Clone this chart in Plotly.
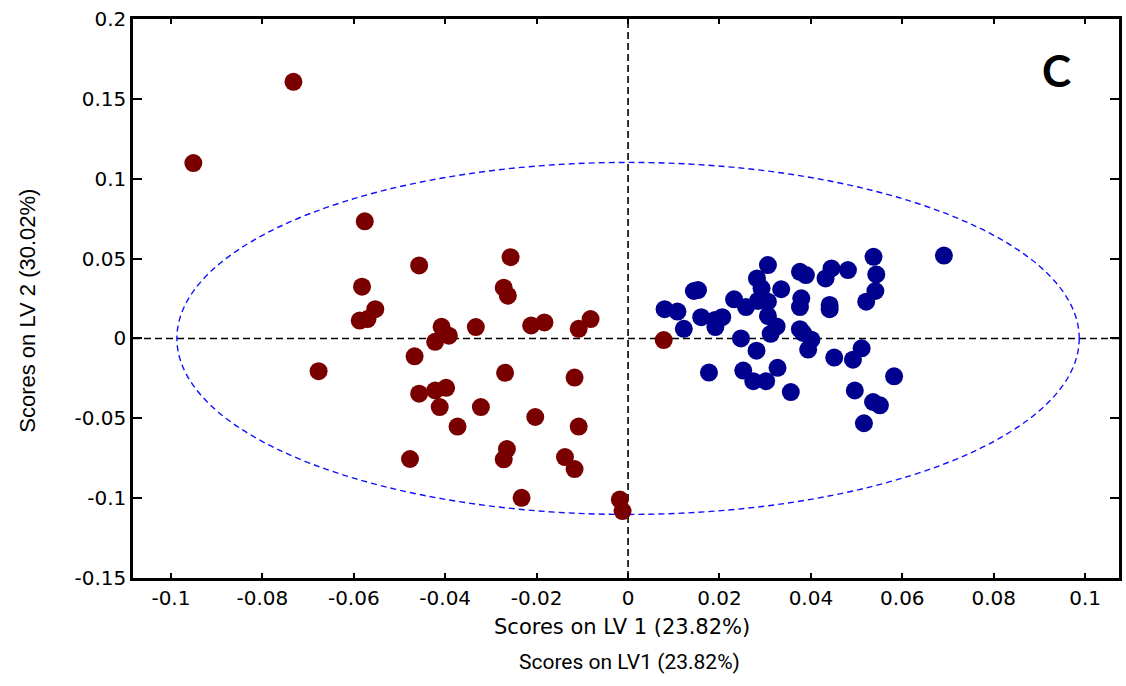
import plotly.graph_objects as go

# ---- data ----
class1_x = [-0.0732, -0.0951, -0.0576, -0.0457, -0.0257, -0.0582, -0.0272, -0.0263,
            -0.0553, -0.0587, -0.0570, -0.0408, -0.0392, -0.0422, -0.0333, -0.0212,
            -0.0183, -0.0108, -0.0082, -0.0467, -0.0677, -0.0269, -0.0117, -0.0457,
            -0.0422, -0.0398, -0.0412, -0.0322, -0.0373, -0.0203, -0.0108, -0.0265,
            -0.0272, -0.0477, -0.0138, -0.0117, -0.0233, -0.0018, -0.0012, 0.0078]
class1_y = [0.1607, 0.1098, 0.0733, 0.0457, 0.0509, 0.0324, 0.0318, 0.0268,
            0.0183, 0.0112, 0.0121, 0.0073, 0.0017, -0.0021, 0.0071, 0.0081,
            0.0100, 0.0060, 0.0121, -0.0112, -0.0205, -0.0215, -0.0245, -0.0346,
            -0.0326, -0.0309, -0.0430, -0.0430, -0.0552, -0.0492, -0.0552, -0.0693,
            -0.0757, -0.0755, -0.0743, -0.0818, -0.0998, -0.1009, -0.1081, -0.0010]

class2_x = [0.0691, 0.0537, 0.0306, 0.0376, 0.0389, 0.0445, 0.0481, 0.0432,
            0.0543, 0.0282, 0.0292, 0.0335, 0.0541, 0.0521, 0.0153, 0.0144,
            0.0232, 0.0258, 0.0284, 0.0306, 0.0379, 0.0376, 0.0441, 0.0441,
            0.0080, 0.0108, 0.0160, 0.0190, 0.0206, 0.0191, 0.0306, 0.0122,
            0.0325, 0.0312, 0.0376, 0.0383, 0.0401, 0.0394, 0.0247, 0.0281,
            0.0511, 0.0451, 0.0492, 0.0327, 0.0177, 0.0252, 0.0274, 0.0302,
            0.0356, 0.0582, 0.0496, 0.0536, 0.0551, 0.0516]
class2_y = [0.0519, 0.0511, 0.0459, 0.0417, 0.0397, 0.0438, 0.0428, 0.0376,
            0.0401, 0.0376, 0.0314, 0.0308, 0.0297, 0.0230, 0.0303, 0.0297,
            0.0245, 0.0196, 0.0235, 0.0230, 0.0251, 0.0196, 0.0210, 0.0183,
            0.0183, 0.0168, 0.0133, 0.0116, 0.0133, 0.0071, 0.0141, 0.0060,
            0.0075, 0.0029, 0.0058, 0.0034, -0.0008, -0.0070, 0.0000, -0.0077,
            -0.0062, -0.0120, -0.0133, -0.0184, -0.0214, -0.0201, -0.0268, -0.0268,
            -0.0336, -0.0237, -0.0326, -0.0398, -0.0419, -0.0531]

# confidence ellipse semi-axes
ellipse_a = 0.0987
ellipse_b = 0.1102

x_tickvals = [-0.1, -0.08, -0.06, -0.04, -0.02, 0, 0.02, 0.04, 0.06, 0.08, 0.1]
x_ticktext = ["-0.1", "-0.08", "-0.06", "-0.04", "-0.02", "0", "0.02", "0.04", "0.06", "0.08", "0.1"]
y_tickvals = [-0.15, -0.1, -0.05, 0, 0.05, 0.1, 0.15, 0.2]
y_ticktext = ["-0.15", "-0.1", "-0.05", "0", "0.05", "0.1", "0.15", "0.2"]

x_title = "Scores on LV 1 (23.82%)"
y_title = "Scores on LV 2 (30.02%)"
bottom_caption = "Scores on LV1 (23.82%)"
panel_label = "C"

# ---- figure ----
fig = go.Figure()

fig.add_trace(go.Scatter(x=class1_x, y=class1_y, mode="markers",
                         marker=dict(symbol="circle", size=18, color="#7a0000",
                                     line=dict(width=0)),
                         showlegend=False))
fig.add_trace(go.Scatter(x=class2_x, y=class2_y, mode="markers",
                         marker=dict(symbol="circle", size=18, color="#00008f",
                                     line=dict(width=0)),
                         showlegend=False))

# confidence ellipse
fig.add_shape(type="circle", xref="x", yref="y",
              x0=-ellipse_a, x1=ellipse_a, y0=-ellipse_b, y1=ellipse_b,
              line=dict(color="#1010ff", width=1.4, dash="6px,4px"), layer="below")
# zero lines
fig.add_shape(type="line", xref="x", yref="paper", x0=0, x1=0, y0=0, y1=1,
              line=dict(color="black", width=1.6, dash="7px,4px"), layer="below")
fig.add_shape(type="line", xref="paper", yref="y", x0=0, x1=1, y0=0, y1=0,
              line=dict(color="black", width=1.6, dash="7px,4px"), layer="below")

tick_font = dict(family="DejaVu Sans, Liberation Sans, Arial", size=20, color="black")

fig.update_xaxes(range=[-0.1083, 0.1074], tickvals=x_tickvals, ticktext=x_ticktext,
                 ticks="inside", ticklen=5, tickwidth=1.5, tickcolor="black",
                 showline=True, linewidth=2.5, linecolor="black", mirror="ticks",
                 showgrid=False, zeroline=False, tickfont=tick_font)
fig.update_yaxes(range=[-0.15, 0.2], tickvals=y_tickvals, ticktext=y_ticktext,
                 ticks="inside", ticklen=9, tickwidth=1.5, tickcolor="black",
                 showline=True, linewidth=2.5, linecolor="black", mirror="ticks",
                 showgrid=False, zeroline=False, tickfont=tick_font)

fig.add_annotation(text=x_title, xref="paper", yref="paper", x=0.496, y=-0.088,
                   xanchor="center", yanchor="middle", showarrow=False,
                   font=dict(family="DejaVu Sans, Liberation Sans", size=21, color="black"))
fig.add_annotation(text=y_title, xref="paper", yref="paper", x=-0.107, y=0.479,
                   xanchor="center", yanchor="middle", showarrow=False, textangle=-90,
                   font=dict(family="Liberation Sans Narrow, Liberation Sans", size=22, color="black"))
fig.add_annotation(text=bottom_caption, xref="paper", yref="paper", x=0.504, y=-0.151,
                   xanchor="center", yanchor="middle", showarrow=False,
                   font=dict(family="Liberation Sans Narrow, Roboto", size=21, color="black"))
fig.add_annotation(text="<b>" + panel_label + "</b>", xref="paper", yref="paper",
                   x=0.937, y=0.909, xanchor="center", yanchor="middle", showarrow=False,
                   font=dict(family="Lato, Open Sans", size=44, color="black"))

fig.update_layout(width=1126, height=686,
                  margin=dict(l=133, r=4, t=19, b=108),
                  paper_bgcolor="white", plot_bgcolor="white", showlegend=False)

fig.write_html("out.html", config={"displayModeBar": False},
               post_script="document.body.style.margin='0';document.body.style.overflow='hidden';")
